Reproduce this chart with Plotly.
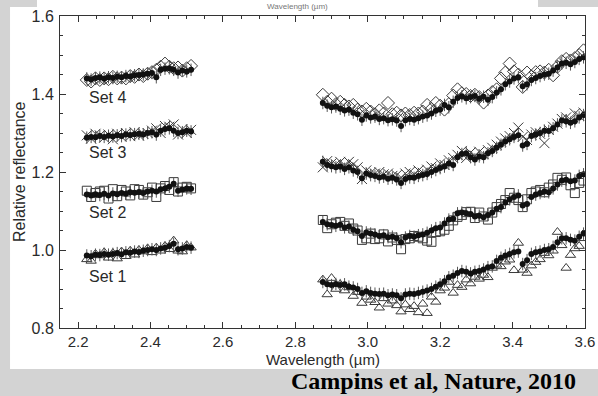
import plotly.graph_objects as go

# ---------------- data ----------------
WL_LEFT = [2.224, 2.236, 2.248, 2.260, 2.272, 2.284, 2.296, 2.308, 2.320, 2.332,
           2.344, 2.356, 2.368, 2.380, 2.392, 2.404, 2.416, 2.428, 2.440, 2.452,
           2.464, 2.476, 2.488, 2.500, 2.512]
WL_RIGHT = [2.876, 2.888, 2.900, 2.912, 2.924, 2.936, 2.948, 2.960, 2.972, 2.984,
            2.996, 3.008, 3.020, 3.032, 3.044, 3.056, 3.068, 3.080, 3.092, 3.104,
            3.116, 3.128, 3.140, 3.152, 3.164, 3.176, 3.188, 3.200, 3.212, 3.224,
            3.236, 3.248, 3.260, 3.272, 3.284, 3.296, 3.308, 3.320, 3.332, 3.344,
            3.356, 3.368, 3.380, 3.392, 3.404, 3.416, 3.428, 3.440, 3.452, 3.464,
            3.476, 3.488, 3.500, 3.512, 3.524, 3.536, 3.548, 3.560, 3.572, 3.584,
            3.596]

# Set 4 (diamonds)
SET4_DOTS_L = [1.440, 1.437, 1.441, 1.442, 1.439, 1.443, 1.441, 1.444, 1.443, 1.446,
               1.445, 1.448, 1.449, 1.450, 1.452, 1.454, 1.443, 1.462, 1.465, 1.466,
               1.462, 1.455, 1.460, 1.458, 1.462]
SET4_OPEN_L = [1.436, 1.432, 1.440, 1.436, 1.440, 1.438, 1.444, 1.440, 1.442, 1.440,
               1.446, 1.444, 1.450, 1.446, 1.452, 1.456, 1.462, 1.470, 1.478, 1.470,
               1.466, 1.468, 1.460, 1.466, 1.472]
SET4_DOTS_R = [1.377, 1.370, 1.366, 1.368, 1.362, 1.358, 1.360, 1.352, 1.348, 1.334,
               1.345, 1.340, 1.342, 1.336, 1.338, 1.333, 1.335, 1.332, 1.318, 1.333,
               1.336, 1.334, 1.338, 1.342, 1.345, 1.350, 1.357, 1.360, 1.372, 1.366,
               1.380, 1.390, 1.394, 1.389, 1.392, 1.395, 1.388, 1.393, 1.385, 1.392,
               1.404, 1.412, 1.425, 1.432, 1.440, 1.443, 1.420, 1.425, 1.436, 1.441,
               1.446, 1.450, 1.452, 1.460, 1.468, 1.478, 1.480, 1.476, 1.482, 1.490,
               1.494]
SET4_OPEN_R = [1.398, 1.380, 1.388, 1.374, 1.380, 1.372, 1.368, 1.372, 1.360, 1.355,
               1.362, 1.355, 1.348, 1.358, 1.350, 1.377, 1.348, 1.352, 1.345, 1.350,
               1.346, 1.352, 1.350, 1.355, 1.372, 1.362, 1.377, 1.370, 1.360, 1.374,
               1.396, 1.412, 1.402, 1.400, 1.395, 1.398, 1.392, 1.378, 1.396, 1.405,
               1.412, 1.440, 1.455, 1.478, 1.458, 1.450, 1.418, 1.455, 1.445, 1.456,
               1.458, 1.455, 1.462, 1.448, 1.470, 1.484, 1.490, 1.486, 1.492, 1.500,
               1.512]

# Set 3 (crosses)
SET3_DOTS_L = [1.288, 1.290, 1.289, 1.292, 1.290, 1.293, 1.291, 1.294, 1.292, 1.296,
               1.295, 1.297, 1.298, 1.296, 1.300, 1.302, 1.296, 1.306, 1.310, 1.312,
               1.306, 1.300, 1.302, 1.306, 1.304]
SET3_OPEN_L = [1.294, 1.286, 1.298, 1.294, 1.288, 1.296, 1.284, 1.298, 1.290, 1.300,
               1.292, 1.302, 1.294, 1.298, 1.300, 1.306, 1.312, 1.300, 1.318, 1.316,
               1.322, 1.296, 1.310, 1.300, 1.308]
SET3_DOTS_R = [1.226, 1.218, 1.215, 1.212, 1.214, 1.208, 1.212, 1.204, 1.200, 1.184,
               1.196, 1.192, 1.190, 1.186, 1.188, 1.183, 1.185, 1.181, 1.172, 1.182,
               1.186, 1.185, 1.190, 1.192, 1.195, 1.200, 1.205, 1.210, 1.214, 1.222,
               1.218, 1.238, 1.246, 1.248, 1.238, 1.232, 1.240, 1.238, 1.248, 1.254,
               1.262, 1.270, 1.278, 1.284, 1.290, 1.294, 1.268, 1.272, 1.292, 1.296,
               1.300, 1.306, 1.305, 1.312, 1.322, 1.332, 1.330, 1.326, 1.330, 1.340,
               1.346]
SET3_OPEN_R = [1.212, 1.228, 1.222, 1.220, 1.226, 1.218, 1.226, 1.220, 1.212, 1.182,
               1.204, 1.198, 1.196, 1.200, 1.194, 1.196, 1.190, 1.192, 1.186, 1.196,
               1.200, 1.194, 1.204, 1.198, 1.206, 1.214, 1.210, 1.222, 1.218, 1.230,
               1.236, 1.244, 1.254, 1.236, 1.250, 1.242, 1.252, 1.246, 1.256, 1.262,
               1.270, 1.278, 1.286, 1.292, 1.300, 1.314, 1.290, 1.282, 1.296, 1.302,
               1.298, 1.274, 1.308, 1.316, 1.324, 1.336, 1.340, 1.334, 1.350, 1.344,
               1.352]

# Set 2 (squares)
SET2_DOTS_L = [1.142, 1.140, 1.143, 1.141, 1.144, 1.140, 1.145, 1.143, 1.146, 1.144,
               1.148, 1.147, 1.149, 1.146, 1.150, 1.152, 1.150, 1.156, 1.158, 1.162,
               1.170, 1.152, 1.155, 1.158, 1.157]
SET2_OPEN_L = [1.152, 1.136, 1.146, 1.150, 1.152, 1.132, 1.156, 1.138, 1.154, 1.150,
               1.140, 1.156, 1.154, 1.142, 1.148, 1.160, 1.136, 1.158, 1.164, 1.154,
               1.174, 1.150, 1.160, 1.162, 1.158]
SET2_DOTS_R = [1.072, 1.066, 1.064, 1.062, 1.065, 1.058, 1.060, 1.052, 1.048, 1.036,
               1.045, 1.042, 1.040, 1.036, 1.038, 1.033, 1.034, 1.030, 1.020, 1.032,
               1.036, 1.034, 1.038, 1.040, 1.044, 1.050, 1.056, 1.058, 1.068, 1.078,
               1.080, 1.094, 1.096, 1.094, 1.092, 1.086, 1.088, 1.084, 1.090, 1.096,
               1.106, 1.110, 1.122, 1.130, 1.136, 1.140, 1.114, 1.118, 1.136, 1.142,
               1.146, 1.150, 1.148, 1.158, 1.168, 1.178, 1.180, 1.176, 1.178, 1.190,
               1.194]
SET2_OPEN_R = [1.077, 1.056, 1.066, 1.070, 1.072, 1.062, 1.068, 1.055, 1.050, 1.026,
               1.030, 1.042, 1.028, 1.030, 1.040, 1.022, 1.032, 1.026, 1.002, 1.028,
               1.030, 1.036, 1.034, 1.030, 1.024, 1.021, 1.046, 1.048, 1.052, 1.062,
               1.076, 1.085, 1.090, 1.097, 1.098, 1.082, 1.096, 1.086, 1.078, 1.096,
               1.110, 1.118, 1.128, 1.146, 1.134, 1.128, 1.110, 1.130, 1.146, 1.150,
               1.154, 1.148, 1.160, 1.168, 1.185, 1.180, 1.186, 1.166, 1.146, 1.172,
               1.178]

# Set 1 (triangles)
SET1_DOTS_L = [0.986, 0.984, 0.988, 0.987, 0.990, 0.988, 0.990, 0.992, 0.989, 0.994,
               0.993, 0.996, 0.995, 0.998, 1.000, 1.002, 1.000, 1.004, 1.006, 1.010,
               1.016, 1.002, 1.004, 1.008, 1.006]
SET1_OPEN_L = [0.976, 0.972, 0.990, 0.986, 0.994, 0.980, 0.992, 0.978, 0.996, 0.984,
               0.998, 0.988, 1.000, 0.996, 1.004, 0.994, 1.006, 0.998, 1.010, 1.002,
               1.024, 0.998, 0.996, 1.012, 1.006]
SET1_DOTS_R = [0.918, 0.912, 0.910, 0.913, 0.910, 0.912, 0.906, 0.904, 0.900, 0.890,
               0.894, 0.890, 0.888, 0.887, 0.888, 0.884, 0.886, 0.884, 0.876, 0.886,
               0.888, 0.887, 0.890, 0.893, 0.896, 0.900, 0.906, 0.912, 0.920, 0.930,
               0.934, 0.941, 0.946, 0.944, 0.940, 0.944, 0.946, 0.950, 0.956, 0.958,
               0.972, 0.980, 0.986, 0.990, 0.994, 0.996, 0.964, 0.974, 0.990, 0.994,
               0.996, 1.000, 1.002, 1.008, 1.020, 1.030, 1.030, 1.026, 1.024, 1.034,
               1.042]
SET1_OPEN_R = [0.924, 0.886, 0.928, 0.900, 0.912, 0.896, 0.904, 0.882, 0.892, 0.864,
               0.880, 0.872, 0.866, 0.852, 0.876, 0.862, 0.870, 0.858, 0.842, 0.860,
               0.848, 0.856, 0.840, 0.862, 0.838, 0.880, 0.867, 0.896, 0.903, 0.918,
               0.890, 0.910, 0.905, 0.924, 0.914, 0.931, 0.926, 0.936, 0.930, 0.954,
               0.962, 0.958, 0.970, 0.975, 0.948, 1.018, 0.949, 0.941, 0.960, 0.969,
               0.976, 0.992, 0.986, 0.998, 1.046, 1.012, 0.954, 0.987, 1.004, 1.010,
               1.030]

SET_NAMES = ["Set 1", "Set 2", "Set 3", "Set 4"]
SET_LABEL_X = [2.224, 2.224, 2.224, 2.224]
SET_LABEL_Y = [0.931, 1.095, 1.249, 1.391]
ERR = 0.016

X_TICKS = [2.2, 2.4, 2.6, 2.8, 3.0, 3.2, 3.4, 3.6]
X_TICK_TEXT = ["2.2", "2.4", "2.6", "2.8", "3.0", "3.2", "3.4", "3.6"]
Y_TICKS = [0.8, 1.0, 1.2, 1.4, 1.6]
Y_TICK_TEXT = ["0.8", "1.0", "1.2", "1.4", "1.6"]

# ---------------- figure ----------------
INK = "#2a2a2a"
fig = go.Figure()

sets = [
    (SET1_DOTS_L + SET1_DOTS_R, SET1_OPEN_L + SET1_OPEN_R, "triangle-up-open", 9),
    (SET2_DOTS_L + SET2_DOTS_R, SET2_OPEN_L + SET2_OPEN_R, "square-open", 9),
    (SET3_DOTS_L + SET3_DOTS_R, SET3_OPEN_L + SET3_OPEN_R, "x-thin-open", 10),
    (SET4_DOTS_L + SET4_DOTS_R, SET4_OPEN_L + SET4_OPEN_R, "diamond-open", 10),
]
wl = WL_LEFT + WL_RIGHT
for dots, opens, sym, size in sets:
    fig.add_trace(go.Scatter(
        x=wl, y=opens, mode="markers",
        marker=dict(symbol=sym, size=size, color="#3a3a3a",
                    line=dict(width=1, color="#3a3a3a")),
        hoverinfo="skip"))
    fig.add_trace(go.Scatter(
        x=wl, y=dots, mode="markers",
        marker=dict(symbol="circle", size=6, color="#111111"),
        error_y=dict(type="constant", value=ERR, color="#555555",
                     thickness=1, width=0),
        hoverinfo="skip"))

annotations = []
for name, lx, ly in zip(SET_NAMES, SET_LABEL_X, SET_LABEL_Y):
    annotations.append(dict(x=lx, y=ly, xref="x", yref="y", text=name,
                            showarrow=False, xanchor="left", yanchor="middle",
                            font=dict(size=16, color=INK)))

annotations += [
    dict(x=0.5, y=-0.1010, xref="paper", yref="paper", text="Wavelength (µm)",
         showarrow=False, xanchor="center", yanchor="middle",
         font=dict(size=15, color=INK)),
    dict(x=-0.078, y=0.5, xref="paper", yref="paper", text="Relative reflectance",
         showarrow=False, xanchor="center", yanchor="middle", textangle=-90,
         font=dict(size=16, color=INK)),
    dict(x=0.4362, y=-0.2179, xref="paper", yref="paper",
         text="<b>Campins et al, Nature, 2010</b>",
         showarrow=False, xanchor="left", yanchor="bottom",
         font=dict(size=24, color="black",
                   family="Liberation Serif, Times New Roman, serif")),
    dict(x=0.452, y=1.0513, xref="paper", yref="paper", text="Wavelength (µm)",
         showarrow=False, xanchor="center", yanchor="top",
         font=dict(size=8, color="#777777")),
]

shapes = [
    dict(type="rect", xref="paper", yref="paper", x0=-0.0952, x1=1.06,
         y0=-0.1314, y1=1.0288, fillcolor="white", line=dict(width=0),
         layer="below"),
    dict(type="rect", xref="paper", yref="paper", x0=-0.0438, x1=0.9105,
         y0=1.02, y1=1.07, fillcolor="white", line=dict(width=0),
         layer="below"),
]

fig.update_layout(
    width=598, height=396,
    margin=dict(l=60, r=13, t=16, b=68, autoexpand=False),
    paper_bgcolor="#d3d3d3", plot_bgcolor="white",
    showlegend=False,
    font=dict(family="Liberation Sans, Arial, sans-serif", color=INK, size=16),
    annotations=annotations, shapes=shapes,
)

axis_common = dict(
    ticks="inside", tickcolor="#333333", ticklen=6, tickwidth=1,
    showline=True, linecolor="#333333", linewidth=1, mirror="ticks",
    showgrid=False, zeroline=False, automargin=False,
)
fig.update_xaxes(range=[2.15, 3.6001], tickmode="array", tickvals=X_TICKS,
                 ticktext=X_TICK_TEXT, ticklabelstandoff=0,
                 tickfont=dict(size=15, color=INK),
                 minor=dict(dtick=0.05, tick0=2.2, ticks="inside", ticklen=3,
                            tickcolor="#333333", showgrid=False),
                 **axis_common)
fig.update_yaxes(range=[0.8, 1.6], tickmode="array", tickvals=Y_TICKS,
                 ticktext=Y_TICK_TEXT, ticklabelstandoff=2,
                 tickfont=dict(size=16, color=INK),
                 minor=dict(dtick=0.05, tick0=0.8, ticks="inside", ticklen=3,
                            tickcolor="#333333", showgrid=False),
                 **axis_common)

fig.write_html(
    "out.html",
    config={"displayModeBar": False},
    post_script="document.body.style.margin='0';"
                "document.body.style.overflow='hidden';",
)
